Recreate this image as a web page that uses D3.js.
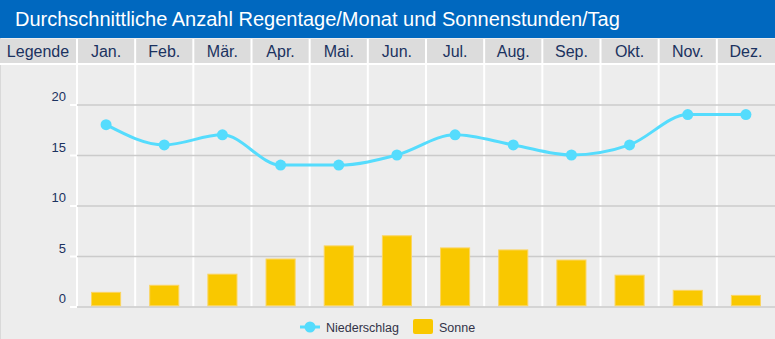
<!DOCTYPE html>
<html>
<head>
<meta charset="utf-8">
<script src="https://cdn.jsdelivr.net/npm/d3@7"></script>
<style>
  html, body { margin: 0; padding: 0; background: #ededed; }
  svg { display: block; font-family: "Liberation Sans", Arial, sans-serif; }
</style>
</head>
<body>
<svg id="chart"></svg>
<script>
var width = 775,
	height = 339;

// Data
var title = 'Durchschnittliche Anzahl Regentage/Monat und Sonnenstunden/Tag';
var legendHeader = 'Legende';
var months = ['Jan.', 'Feb.', 'Mär.', 'Apr.', 'Mai.', 'Jun.', 'Jul.', 'Aug.', 'Sep.', 'Okt.', 'Nov.', 'Dez.'];
var niederschlag = [18, 16, 17, 14, 14, 15, 17, 16, 15, 16, 19, 19];
var sonne = [1.4, 2.1, 3.2, 4.7, 6.0, 7.0, 5.8, 5.6, 4.6, 3.1, 1.6, 1.1];
var yTicks = [0, 5, 10, 15, 20];
var seriesNames = ['Niederschlag', 'Sonne'];

var lineColor = '#55dcfd',
	barColor = '#f9c800',
	textColor = '#1b3260';

var svg = d3.select('#chart')
	.attr('width', width)
	.attr('height', height);

// background + left border
svg.append('rect')
	.attr('width', width).attr('height', height)
	.attr('fill', '#ededed');
svg.append('line')
	.attr('x1', 0.5).attr('x2', 0.5)
	.attr('y1', 38).attr('y2', height)
	.attr('stroke', '#d9d9d9');

// title bar
svg.append('rect')
	.attr('width', width).attr('height', 38)
	.attr('fill', '#0068bf');
svg.append('text')
	.attr('x', 15).attr('y', 26)
	.attr('fill', 'white')
	.attr('font-size', 20)
	.text(title);

var x = d3.scaleBand()
	.domain(months)
	.range([77, width]);

var y = d3.scaleLinear()
	.domain([0, 20])
	.range([306.5, 104.5]);

// header row
var header = svg.append('g');
header.append('rect')
	.attr('x', 0).attr('y', 39)
	.attr('width', width).attr('height', 24)
	.attr('fill', '#dcdcdc');
header.append('text')
	.attr('x', 38).attr('y', 57)
	.attr('text-anchor', 'middle')
	.attr('font-size', 16)
	.attr('fill', textColor)
	.text(legendHeader);
header.selectAll('text.month')
	.data(months)
	.join('text')
	.attr('class', 'month')
	.attr('x', d => x(d) + x.bandwidth() / 2)
	.attr('y', 57)
	.attr('text-anchor', 'middle')
	.attr('font-size', 16)
	.attr('fill', textColor)
	.text(d => d);
// white row separator
svg.append('rect')
	.attr('x', 0).attr('y', 63)
	.attr('width', width).attr('height', 2)
	.attr('fill', 'white');

// white column separators
svg.append('g')
	.selectAll('line')
	.data(months)
	.join('line')
	.attr('x1', d => x(d))
	.attr('x2', d => x(d))
	.attr('y1', 39)
	.attr('y2', y(0))
	.attr('stroke', 'white')
	.attr('stroke-width', 2);

// y grid + axis
var yAxis = g => g
	.attr('transform', 'translate(77,0)')
	.call(d3.axisLeft(y).tickValues(yTicks).tickSize(7).tickPadding(0))
	.call(g => g.select('.domain').remove())
	.call(g => g.selectAll('.tick line')
		.attr('stroke', 'white')
		.attr('stroke-width', 2))
	.call(g => g.selectAll('.tick line').clone()
		.attr('x1', 0)
		.attr('x2', width - 77)
		.attr('stroke', '#cbcbcb')
		.attr('stroke-width', 1.5))
	.call(g => g.selectAll('.tick text')
		.attr('x', -11)
		.attr('dy', -4)
		.attr('font-size', 13)
		.attr('font-family', '"Liberation Sans", Arial, sans-serif')
		.attr('fill', textColor));

svg.append('g').call(yAxis);

// bars (Sonne)
var barW = x.bandwidth() * 0.5;
svg.append('g')
	.selectAll('rect')
	.data(sonne)
	.join('rect')
	.attr('x', (d, i) => x(months[i]) + (x.bandwidth() - barW) / 2)
	.attr('y', d => y(d))
	.attr('width', barW)
	.attr('height', d => y(0) - y(d) - 0.75)
	.attr('fill', barColor)
	.attr('stroke', '#fbd560')
	.attr('stroke-width', 1);

// line (Niederschlag)
var line = d3.line()
	.x((d, i) => x(months[i]) + x.bandwidth() / 2)
	.y(d => y(d))
	.curve(d3.curveMonotoneX);

svg.append('path')
	.attr('d', line(niederschlag))
	.attr('fill', 'none')
	.attr('stroke', lineColor)
	.attr('stroke-width', 3);

svg.append('g')
	.selectAll('circle')
	.data(niederschlag)
	.join('circle')
	.attr('cx', (d, i) => x(months[i]) + x.bandwidth() / 2)
	.attr('cy', d => y(d))
	.attr('r', 5.5)
	.attr('fill', lineColor);

// legend
var legend = svg.append('g')
	.attr('transform', 'translate(300, 327)');
legend.append('line')
	.attr('x1', 0).attr('x2', 20)
	.attr('stroke', lineColor)
	.attr('stroke-width', 3);
legend.append('circle')
	.attr('cx', 10).attr('r', 5.5)
	.attr('fill', lineColor);
legend.append('text')
	.attr('x', 26).attr('y', 4.5)
	.attr('font-size', 12.5)
	.attr('fill', '#333348')
	.text(seriesNames[0]);
legend.append('rect')
	.attr('x', 113).attr('y', -8)
	.attr('width', 20).attr('height', 15)
	.attr('rx', 2)
	.attr('fill', barColor);
legend.append('text')
	.attr('x', 139).attr('y', 4.5)
	.attr('font-size', 12.5)
	.attr('fill', '#333348')
	.text(seriesNames[1]);
</script>
</body>
</html>
